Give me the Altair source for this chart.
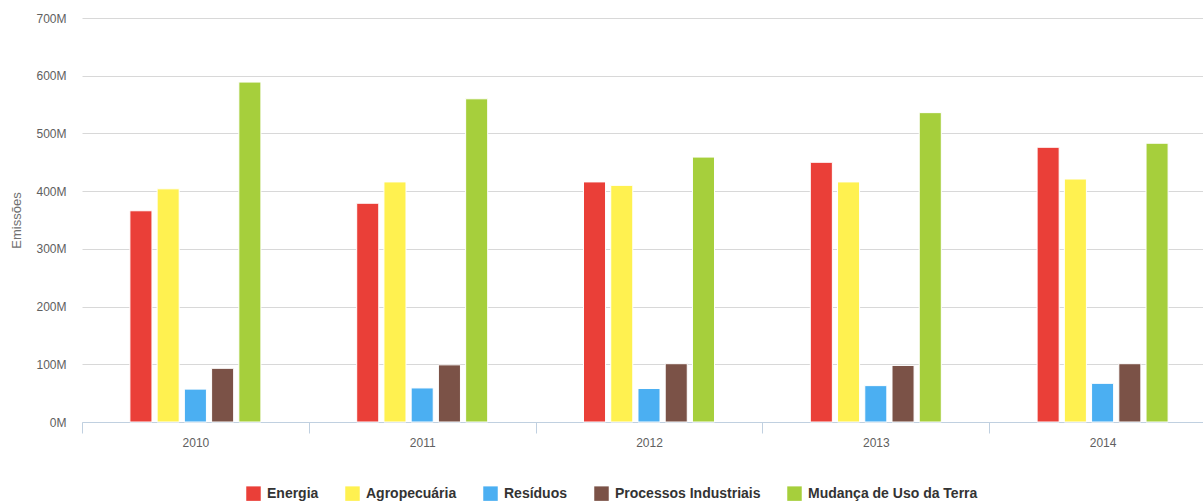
import altair as alt
import pandas as pd

years = ["2010", "2011", "2012", "2013", "2014"]
sectors = ["Energia", "Agropecuária", "Resíduos", "Processos Industriais", "Mudança de Uso da Terra"]
colors = ["#EA3F38", "#FFF150", "#4BAFF2", "#7B5247", "#A6CF3C"]

energia = [366, 379, 416, 450, 476]
agro = [404, 416, 410, 416, 421]
residuos = [57, 59, 58, 63, 67]
processos = [93, 99, 101, 98, 101]
mudanca = [589, 560, 459, 536, 483]

series = [energia, agro, residuos, processos, mudanca]
rows = []
for s, vals in zip(sectors, series):
    for y, v in zip(years, vals):
        rows.append({"ano": y, "setor": s, "valor": v})
df = pd.DataFrame(rows)

font = "Liberation Sans, DejaVu Sans, sans-serif"
legend_font = "Liberation Sans Narrow, Liberation Sans, sans-serif"

chart = alt.Chart(df).mark_bar(stroke="white", strokeWidth=1).encode(
    x=alt.X("ano:N", sort=years, title=None,
            scale=alt.Scale(range=[0, 1134], paddingInner=0, paddingOuter=0),
            axis=alt.Axis(labelAngle=0, tickBand="extent", domainColor="#C0D0E0",
                          tickColor="#C0D0E0", tickSize=11, labelPadding=4,
                          labelColor="#606060", labelFont=font, labelFontSize=12,
                          grid=False)),
    xOffset=alt.XOffset("setor:N", sort=sectors,
                        scale=alt.Scale(range=[47.9, 178.9], paddingInner=0.19, paddingOuter=0)),
    y=alt.Y("valor:Q", title="Emissões",
            scale=alt.Scale(domain=[0, 700], nice=False),
            axis=alt.Axis(values=[0, 100, 200, 300, 400, 500, 600, 700],
                          labelExpr="datum.value + 'M'", domain=False, ticks=False,
                          gridColor="#D8D8D8", gridWidth=1, labelPadding=16,
                          labelColor="#606060", labelFont=font, labelFontSize=12,
                          titleColor="#707070", titleFont=font, titleFontSize=13,
                          titleFontWeight="normal", titlePadding=12)),
    color=alt.Color("setor:N", sort=sectors,
                    scale=alt.Scale(domain=sectors, range=colors),
                    legend=alt.Legend(title=None, orient="none", direction="horizontal",
                                      legendX=164, legendY=468,
                                      symbolType="square", symbolSize=210,
                                      symbolStrokeWidth=0, symbolOpacity=1,
                                      labelFont=legend_font, labelFontSize=14,
                                      labelFontWeight="bold", labelColor="#333333",
                                      labelLimit=400,
                                      columnPadding=26, labelOffset=6)),
).properties(
    width=1121, height=404,
    autosize=alt.AutoSizeParams(type="none"),
    padding={"left": 82, "top": 18, "right": 0, "bottom": 82},
).configure(background="white").configure_view(stroke=None)

chart.save("out.html", embed_options={"renderer": "svg", "actions": False})
